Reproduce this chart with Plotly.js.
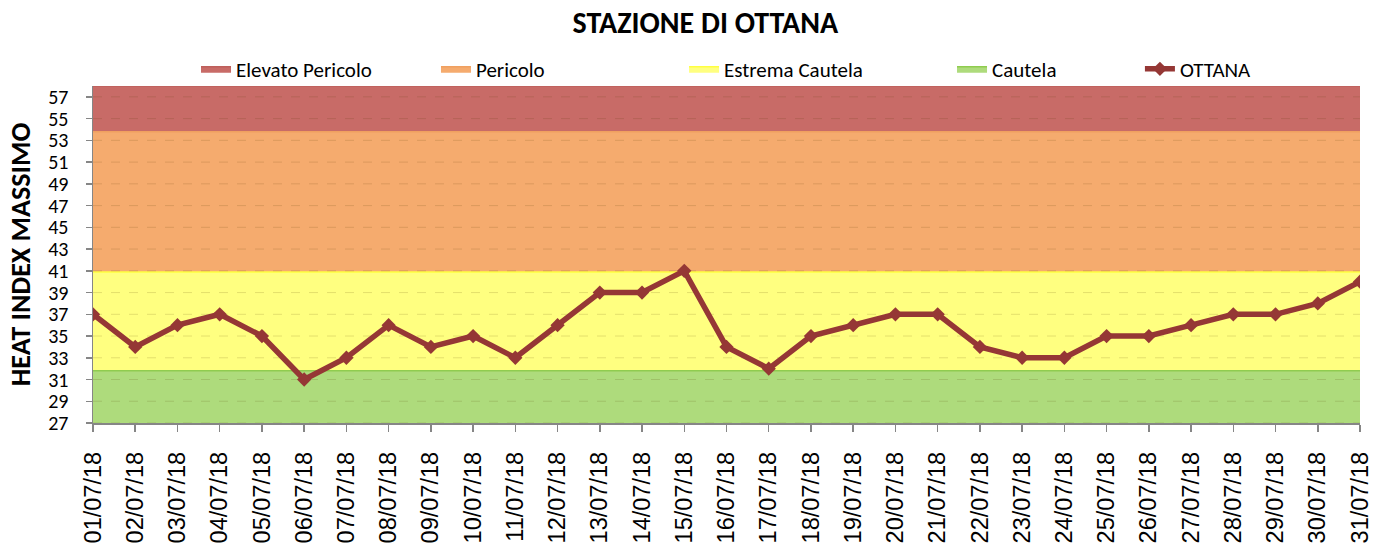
<!DOCTYPE html>
<html>
<head>
<meta charset="utf-8">
<script src="https://cdn.plot.ly/plotly-3.0.1.min.js"></script>
<style>html,body{margin:0;padding:0;background:#fff;}#chart{width:1375px;height:554px;}</style>
</head>
<body>
<div id="chart"></div>
<script>
const dates = ["01/07/18","02/07/18","03/07/18","04/07/18","05/07/18","06/07/18","07/07/18","08/07/18","09/07/18","10/07/18","11/07/18","12/07/18","13/07/18","14/07/18","15/07/18","16/07/18","17/07/18","18/07/18","19/07/18","20/07/18","21/07/18","22/07/18","23/07/18","24/07/18","25/07/18","26/07/18","27/07/18","28/07/18","29/07/18","30/07/18","31/07/18"];
const ottana = [37,34,36,37,35,31,33,36,34,35,33,36,39,39,41,34,32,35,36,37,37,34,33,33,35,35,36,37,37,38,40];
// upper limits of the risk bands
const bandNames = ["Elevato Pericolo","Pericolo","Estrema Cautela","Cautela"];
const bandTops = [58,53.8,40.9,31.8];
const bandFill = ["#C86B67","#F5AB6E","#FFFF80","#AEDB7C"];
const bandLine = ["#BE5F5B","#F0A060","#FFFF40","#8FCC4F"];
const yTicks = [27,29,31,33,35,37,39,41,43,45,47,49,51,53,55,57];

const FONT = "Carlito, Calibri, Lato, 'Liberation Sans', sans-serif";
const legendX = [0.0813, 0.2707, 0.4665, 0.678, 0.8263];
const legendIds = ['legend','legend2','legend3','legend4','legend5'];

const traces = [];
bandNames.forEach((n,i)=>{
  traces.push({
    x: dates, y: dates.map(()=>bandTops[i]), name: n, type:'scatter', mode:'lines',
    fill:'tozeroy', fillcolor: bandFill[i], line:{color:bandLine[i], width:1.5},
    hoverinfo:'skip', legend: legendIds[i]
  });
});
// dashed horizontal gridlines drawn over the coloured bands
const gx = [], gy = [];
yTicks.forEach(t=>{ gx.push(dates[0], dates[dates.length-1], null); gy.push(t, t, null); });
traces.push({x:gx, y:gy, type:'scatter', mode:'lines', showlegend:false, hoverinfo:'skip',
  line:{color:'rgba(90,60,0,0.16)', width:1, dash:'dash'}, connectgaps:false});
traces.push({
  x: dates, y: ottana, name:'OTTANA', type:'scatter', mode:'lines+markers', legend:'legend5',
  line:{color:'#953735', width:5.5}, marker:{symbol:'diamond', size:11, color:'#953735'}
});

const layout = {
  width:1375, height:554,
  margin:{l:93, r:15, t:86, b:131},
  paper_bgcolor:'#fff', plot_bgcolor:'#fff',
  font:{family:FONT, color:'#000'},
  title:{text:'<b>STAZIONE DI OTTANA</b>', font:{family:FONT, size:30, color:'#000'}, x:0.513, xref:'container', y:0.96, yref:'container', yanchor:'middle'},
  showlegend:true,
  xaxis:{type:'category', range:[0,30], showgrid:false, ticks:'outside', ticklen:7, tickcolor:'#868686', tickwidth:1.5,
    showline:true, linecolor:'#868686', linewidth:1.5, tickangle:-90, ticklabelstandoff:11,
    tickfont:{family:"'Liberation Sans', Arial, sans-serif", size:23.5, color:'#000'}, zeroline:false, fixedrange:true},
  yaxis:{range:[27,58], tickvals:yTicks, ticktext:yTicks.map(String), ticks:'outside', ticklen:6, tickcolor:'#868686', tickwidth:1.5,
    showline:true, linecolor:'#868686', linewidth:1.5, showgrid:false, ticklabelstandoff:13,
    tickfont:{family:FONT, size:20, color:'#000'}, zeroline:false,
    title:{text:'<b>HEAT INDEX MASSIMO</b>', font:{family:FONT, size:28, color:'#000'}, standoff:9}},
};
legendIds.forEach((id,i)=>{
  layout[id] = {orientation:'h', x:legendX[i], xanchor:'left', y:1.05, yanchor:'middle', font:{family:FONT, size:21, color:'#000'}, bgcolor:'rgba(0,0,0,0)'};
});
Plotly.newPlot('chart', traces, layout, {displayModeBar:false, staticPlot:true});
</script>
</body>
</html>
